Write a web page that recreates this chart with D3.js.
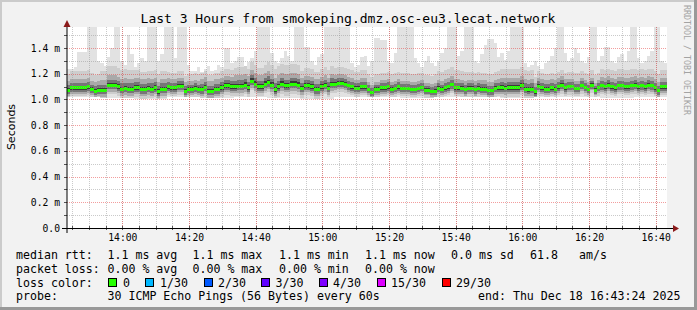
<!DOCTYPE html>
<html><head><meta charset="utf-8">
<script src="https://cdn.jsdelivr.net/npm/d3@7"></script>
<style>body{margin:0;background:#f2f2f2}svg{display:block}</style>
</head><body><svg id="c" width="697" height="310"></svg>
<script>
// ---------------- data ----------------
const titleText = "Last 3 Hours from smokeping.dmz.osc-eu3.lecat.network";
const startTime = Date.UTC(2025, 11, 18, 13, 43, 24);
const endTime = Date.UTC(2025, 11, 18, 16, 43, 24);
const stepSeconds = 60;
const yMax = 1.5556;
const yTicks = [0, 0.2, 0.4, 0.6, 0.8, 1.0, 1.2, 1.4];
const yTickLabels = ["0.0", "0.2 m", "0.4 m", "0.6 m", "0.8 m", "1.0 m", "1.2 m", "1.4 m"];
const yMinorTicks = [0.1, 0.3, 0.5, 0.7, 0.9, 1.1, 1.3, 1.5];

// median rtt (ms), one value per 60 s step
const medianRtt = [
1.071,1.089,1.089,1.089,1.089,1.089,1.097,1.076,1.063,1.071,
1.071,1.071,1.110,1.110,1.110,1.097,1.079,1.084,1.079,1.079,
1.089,1.089,1.076,1.076,1.084,1.079,1.089,1.058,1.079,1.079,
1.097,1.089,1.089,1.100,1.100,1.063,1.076,1.076,1.084,1.076,
1.076,1.092,1.063,1.063,1.076,1.076,1.089,1.105,1.105,1.097,
1.097,1.100,1.100,1.110,1.089,1.141,1.118,1.097,1.097,1.118,
1.131,1.110,1.074,1.097,1.118,1.105,1.105,1.118,1.118,1.110,
1.084,1.105,1.105,1.097,1.076,1.076,1.097,1.110,1.087,1.118,
1.118,1.126,1.126,1.118,1.105,1.097,1.084,1.084,1.097,1.097,
1.076,1.053,1.079,1.079,1.089,1.089,1.097,1.079,1.084,1.097,
1.084,1.084,1.084,1.076,1.076,1.084,1.089,1.071,1.071,1.061,
1.061,1.084,1.076,1.089,1.097,1.113,1.089,1.089,1.084,1.074,
1.084,1.084,1.074,1.084,1.079,1.079,1.066,1.066,1.084,1.089,
1.089,1.084,1.089,1.089,1.089,1.089,1.105,1.079,1.074,1.079,
1.058,1.100,1.089,1.079,1.079,1.089,1.079,1.097,1.110,1.089,
1.097,1.097,1.084,1.084,1.105,1.089,1.076,1.110,1.071,1.089,
1.105,1.097,1.110,1.097,1.089,1.105,1.105,1.097,1.097,1.105,
1.110,1.097,1.105,1.097,1.110,1.105,1.089,1.066,1.097,1.097];

// highest ping per step (ms)
const smokeMax = [
1.24,1.24,1.25,1.37,1.37,1.37,1.60,1.60,1.60,1.30,
1.28,1.26,1.33,1.40,1.60,1.60,1.30,1.27,1.50,1.35,
1.25,1.28,1.32,1.30,1.60,1.60,1.60,1.30,1.35,1.60,
1.60,1.60,1.32,1.60,1.60,1.60,1.27,1.22,1.22,1.25,
1.21,1.24,1.26,1.22,1.23,1.27,1.25,1.40,1.40,1.28,
1.30,1.33,1.33,1.26,1.29,1.32,1.38,1.60,1.60,1.60,
1.60,1.36,1.30,1.28,1.32,1.38,1.34,1.30,1.60,1.60,
1.60,1.41,1.41,1.30,1.27,1.33,1.35,1.60,1.60,1.60,
1.60,1.60,1.60,1.60,1.60,1.28,1.25,1.27,1.33,1.34,
1.26,1.30,1.48,1.48,1.46,1.46,1.30,1.28,1.36,1.60,
1.60,1.60,1.60,1.60,1.32,1.28,1.25,1.30,1.34,1.28,
1.26,1.30,1.36,1.40,1.60,1.60,1.60,1.34,1.38,1.60,
1.60,1.60,1.30,1.28,1.35,1.42,1.47,1.47,1.44,1.33,
1.36,1.31,1.38,1.60,1.60,1.60,1.60,1.28,1.25,1.27,
1.30,1.26,1.24,1.28,1.30,1.34,1.40,1.60,1.60,1.36,
1.30,1.32,1.40,1.36,1.30,1.28,1.33,1.60,1.60,1.30,
1.34,1.41,1.41,1.30,1.28,1.33,1.35,1.30,1.38,1.60,
1.60,1.32,1.28,1.30,1.34,1.38,1.60,1.60,1.30,1.28];

// per 10-minute block: lowest ping (ms) and spread of the inner smoke layers (ms)
const smokeMin = [1.02,1.01,1.00,1.02,1.01,1.02,1.01,1.00,1.02,1.02,1.01,1.02,1.02,1.01,1.02,1.02,1.01,1.02];
const upL1 = [0.13,0.15,0.14,0.12,0.13,0.15,0.16,0.14,0.13,0.12,0.12,0.14,0.13,0.15,0.12,0.12,0.13,0.13];
const upL2 = [0.07,0.08,0.08,0.07,0.08,0.09,0.09,0.08,0.07,0.06,0.06,0.07,0.07,0.08,0.07,0.06,0.07,0.07];
const upL3 = [0.040,0.045,0.045,0.040,0.045,0.050,0.050,0.045,0.040,0.035,0.035,0.040,0.040,0.045,0.040,0.035,0.040,0.040];
const upL4 = [0.018,0.020,0.020,0.018,0.020,0.022,0.022,0.020,0.018,0.016,0.016,0.018,0.018,0.020,0.018,0.016,0.018,0.018];
const dnL1 = [0.065,0.070,0.070,0.065,0.070,0.070,0.075,0.070,0.065,0.065,0.060,0.065,0.065,0.070,0.065,0.060,0.065,0.065];
const dnL2 = [0.045,0.050,0.050,0.045,0.050,0.050,0.050,0.050,0.045,0.045,0.040,0.045,0.045,0.050,0.045,0.040,0.045,0.045];
const dnL3 = [0.028,0.030,0.030,0.028,0.030,0.030,0.032,0.030,0.028,0.028,0.026,0.028,0.028,0.030,0.028,0.026,0.028,0.028];
const dnL4 = [0.012,0.013,0.013,0.012,0.013,0.013,0.014,0.013,0.012,0.012,0.011,0.012,0.012,0.013,0.012,0.011,0.012,0.012];
const smokeColors = ["#e2e2e2", "#cdcdcd", "#a9a9a9", "#767676", "#3a3a3a"];

const legendRows = [
  [["median rtt:", 16], ["1.1 ms avg", 107.5], ["1.1 ms max", 192.5], ["1.1 ms min", 279], ["1.1 ms now", 365], ["0.0 ms sd", 451], ["61.8", 530], ["am/s", 579]],
  [["packet loss:", 16], ["0.00 % avg", 107.5], ["0.00 % max", 192.5], ["0.00 % min", 279], ["0.00 % now", 365]],
  [["loss color:", 16]],
  [["probe:", 16], ["30 ICMP Echo Pings (56 Bytes) every 60s", 107.5], ["end: Thu Dec 18 16:43:24 2025", 478]]
];
const lossLabels = ["0", "1/30", "2/30", "3/30", "4/30", "15/30", "29/30"];
const lossColors = ["#26ff00", "#00b8ff", "#0059ff", "#5e00ff", "#7e00ff", "#dd00ff", "#ff0000"];
const lossBoxX = [108, 145, 203.5, 261, 319, 377, 442];
const lossTextX = [123, 160, 218, 275.5, 333, 391, 456];

// ---------------- drawing ----------------
const svg = d3.select("#c");
const W = 697, H = 310;
const mono = "'DejaVu Sans Mono', monospace";

svg.append("rect").attr("width", W).attr("height", H).attr("fill", "#f2f2f2");
// frame shading
svg.append("rect").attr("x", 0).attr("y", 0).attr("width", W).attr("height", 2).attr("fill", "#cbcbcb");
svg.append("rect").attr("x", 0).attr("y", 0).attr("width", 2).attr("height", H).attr("fill", "#cbcbcb");
svg.append("rect").attr("x", W - 3).attr("y", 0).attr("width", 3).attr("height", H).attr("fill", "#999999");
svg.append("rect").attr("x", 0).attr("y", H - 3).attr("width", W).attr("height", 3).attr("fill", "#999999");

const x = d3.scaleUtc().domain([new Date(startTime), new Date(endTime)]).range([67, 667]);
const y = d3.scaleLinear().domain([0, yMax]).range([228, 28]);

// canvas
svg.append("rect").attr("x", 67).attr("y", 27).attr("width", 600).attr("height", 201).attr("fill", "#ffffff");

svg.append("defs").append("clipPath").attr("id", "plotclip")
  .append("rect").attr("x", 67).attr("y", 27).attr("width", 600).attr("height", 201);
const plot = svg.append("g").attr("clip-path", "url(#plotclip)").attr("shape-rendering", "crispEdges");

const stepStart = i => new Date(startTime + i * stepSeconds * 1000);
const stepEnd = i => new Date(startTime + (i + 1) * stepSeconds * 1000);
const bin = i => Math.floor(i / 10);

const layers = [
  { color: smokeColors[0], lo: (m, i) => smokeMin[bin(i)], hi: (m, i) => smokeMax[i] },
  { color: smokeColors[1], lo: (m, i) => Math.max(smokeMin[bin(i)], m - dnL1[bin(i)]), hi: (m, i) => Math.min(smokeMax[i], m + upL1[bin(i)]) },
  { color: smokeColors[2], lo: (m, i) => Math.max(smokeMin[bin(i)], m - dnL2[bin(i)]), hi: (m, i) => Math.min(smokeMax[i], m + upL2[bin(i)]) },
  { color: smokeColors[3], lo: (m, i) => m - dnL3[bin(i)], hi: (m, i) => m + upL3[bin(i)] },
  { color: smokeColors[4], lo: (m, i) => m - dnL4[bin(i)], hi: (m, i) => m + upL4[bin(i)] }
];
layers.forEach(L => {
  plot.append("g").selectAll("rect").data(medianRtt).join("rect")
    .attr("x", (d, i) => x(stepStart(i)))
    .attr("width", (d, i) => x(stepEnd(i)) - x(stepStart(i)))
    .attr("y", (d, i) => y(L.hi(d, i)))
    .attr("height", (d, i) => y(L.lo(d, i)) - y(L.hi(d, i)))
    .attr("fill", L.color);
});

// grid
const grid = svg.append("g").attr("shape-rendering", "crispEdges");
const minorX = x.ticks(d3.utcMinute.every(5));
const majorX = x.ticks(d3.utcMinute.every(20));
grid.selectAll(".mx").data(minorX).join("line")
  .attr("x1", d => Math.round(x(d)) + 0.5).attr("x2", d => Math.round(x(d)) + 0.5)
  .attr("y1", 27).attr("y2", 228)
  .attr("stroke", "rgba(150,150,150,0.5)").attr("stroke-dasharray", "1,1");
grid.selectAll(".my").data(yMinorTicks).join("line")
  .attr("x1", 67).attr("x2", 667)
  .attr("y1", d => Math.round(y(d)) + 0.5).attr("y2", d => Math.round(y(d)) + 0.5)
  .attr("stroke", "rgba(150,150,150,0.5)").attr("stroke-dasharray", "1,1");
grid.selectAll(".Mx").data(majorX).join("line")
  .attr("x1", d => Math.round(x(d)) + 0.5).attr("x2", d => Math.round(x(d)) + 0.5)
  .attr("y1", 27).attr("y2", 228)
  .attr("stroke", "rgba(230,60,60,0.5)").attr("stroke-dasharray", "1,1");
grid.selectAll(".My").data(yTicks.filter(v => v > 0)).join("line")
  .attr("x1", 67).attr("x2", 667)
  .attr("y1", d => Math.round(y(d)) + 0.5).attr("y2", d => Math.round(y(d)) + 0.5)
  .attr("stroke", "rgba(230,60,60,0.5)").attr("stroke-dasharray", "1,1");

// median (loss-coloured bars, 3 px tall)
plot.append("g").selectAll("rect").data(medianRtt).join("rect")
  .attr("x", (d, i) => x(stepStart(i)))
  .attr("width", (d, i) => x(stepEnd(i)) - x(stepStart(i)))
  .attr("y", d => y(d) - 1.5)
  .attr("height", 3)
  .attr("fill", lossColors[0]);

// axes
const xAxis = d3.axisBottom(x).ticks(d3.utcMinute.every(20)).tickFormat(d3.utcFormat("%H:%M")).tickSize(0).tickPadding(6);
const gx = svg.append("g").attr("transform", "translate(0,228)").call(xAxis);
gx.select(".domain").remove();
gx.selectAll("text").attr("font-family", mono).attr("font-size", "9.7px").attr("fill", "#000");

const yAxis = d3.axisLeft(y).tickValues(yTicks).tickFormat((d, i) => yTickLabels[i]).tickSize(0).tickPadding(7);
const gy = svg.append("g").attr("transform", "translate(67,0)").call(yAxis);
gy.select(".domain").remove();
gy.selectAll("text").attr("font-family", mono).attr("font-size", "9.7px").attr("fill", "#000");

// axis ticks
const tk = svg.append("g").attr("shape-rendering", "crispEdges").attr("stroke", "#555");
tk.selectAll(".t1").data(minorX).join("line")
  .attr("x1", d => Math.round(x(d)) + 0.5).attr("x2", d => Math.round(x(d)) + 0.5)
  .attr("y1", 226).attr("y2", 230);
tk.selectAll(".t2").data(yTicks.concat(yMinorTicks)).join("line")
  .attr("x1", 64).attr("x2", 67)
  .attr("y1", d => Math.round(y(d)) + 0.5).attr("y2", d => Math.round(y(d)) + 0.5);

// axis lines + arrows
svg.append("line").attr("x1", 62).attr("x2", 673).attr("y1", 228.5).attr("y2", 228.5)
  .attr("stroke", "#000").attr("shape-rendering", "crispEdges");
svg.append("line").attr("x1", 67).attr("x2", 67).attr("y1", 233).attr("y2", 24)
  .attr("stroke", "#000");
svg.append("path").attr("d", "M673,225 L679,228.5 L673,232 Z").attr("fill", "#8b1a1a");
svg.append("path").attr("d", "M63.5,27 L67,20 L70.5,27 Z").attr("fill", "#8b1a1a");

// title
svg.append("text").attr("x", 348).attr("y", 23).attr("text-anchor", "middle")
  .attr("font-family", mono).attr("font-size", "13px").attr("fill", "#000").text(titleText);

// vertical axis label
svg.append("text").attr("transform", "translate(14.5,127) rotate(-90)")
  .attr("text-anchor", "middle").attr("font-family", "'DejaVu Sans', sans-serif")
  .attr("font-size", "11px").attr("fill", "#000").text("Seconds");

// watermark
svg.append("text").attr("transform", "translate(684,5) rotate(90)")
  .attr("font-family", mono).attr("font-size", "8.3px").attr("fill", "#a3a3a3")
  .text("RRDTOOL / TOBI OETIKER");

// legend
const rowBase = [259, 272.5, 286.5, 300];
legendRows.forEach((row, r) => {
  row.forEach(([t, lx]) => {
    svg.append("text").attr("x", lx).attr("y", rowBase[r]).attr("font-family", mono)
      .attr("font-size", "11.6px").attr("fill", "#000").attr("xml:space", "preserve").text(t);
  });
});
lossLabels.forEach((t, k) => {
  svg.append("rect").attr("x", lossBoxX[k] + 0.5).attr("y", 278.5).attr("width", 8).attr("height", 8)
    .attr("fill", lossColors[k]).attr("stroke", "#000").attr("shape-rendering", "crispEdges");
  svg.append("text").attr("x", lossTextX[k]).attr("y", rowBase[2]).attr("font-family", mono)
    .attr("font-size", "11.6px").attr("fill", "#000").text(t);
});
</script>
</body></html>
